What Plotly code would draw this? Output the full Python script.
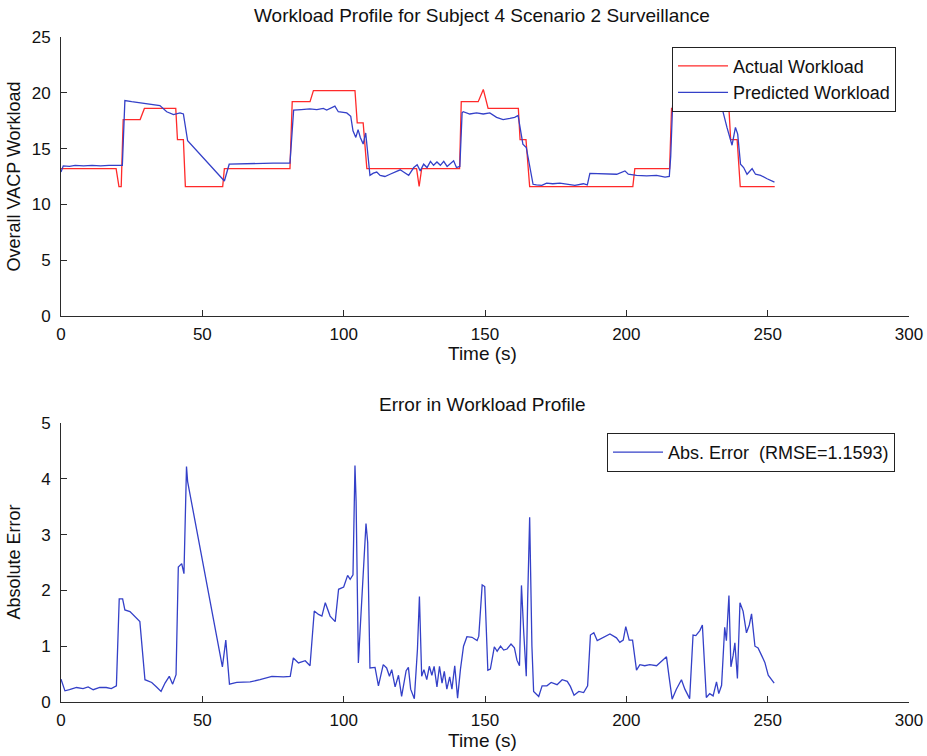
import plotly.graph_objects as go

# ---------------- data ----------------
actual_t = [0, 19.5, 20.5, 21.3, 22.0, 28.0, 29.5, 40.6, 41.2, 43.3, 44.0, 57.2, 57.8,
            81.0, 81.8, 88.1, 89.3, 104.0, 104.8, 106.9, 108.2, 125.8, 126.7, 127.6,
            141.0, 141.6, 147.6, 149.4, 151.1, 161.8, 162.4, 164.5, 165.8, 202.3, 203.0,
            215.3, 216.0, 236.3, 236.9, 239.2, 240.3, 252.5]
actual_v = [13.2, 13.2, 11.6, 11.6, 17.6, 17.6, 18.6, 18.6, 15.8, 15.8, 11.6, 11.6, 13.2,
            13.2, 19.2, 19.2, 20.2, 20.2, 17.3, 17.3, 13.2, 13.2, 11.6, 13.2,
            13.2, 19.2, 19.2, 20.3, 18.6, 18.6, 15.8, 15.8, 11.6, 11.6, 13.2,
            13.2, 18.6, 18.6, 15.8, 15.8, 11.6, 11.6]

pred_t = [0, 0.8, 3, 5, 8, 11, 14, 17, 21.7, 22.6, 25, 30, 35, 37.4, 39.8, 42.1, 43.3, 44.8,
          57.8, 59.5, 65, 75, 81.0, 82.3, 85, 88, 90.5, 92.8, 94, 96.9, 98.1, 101.1, 102.5,
          103.3, 104.3, 105.1, 105.9, 106.9, 107.8, 109.3, 110.5, 111.7, 112.9, 114.6, 116.4,
          118.2, 120.0, 121.2, 123.0, 124.8, 126.0, 127.1, 128.3, 129.5, 130.7, 131.8, 133,
          134.2, 135.4, 136.6, 137.8, 138.9, 139.9, 141.1, 141.9, 142.3, 144.6, 147, 149.4,
          151.7, 154.1, 156.4, 158.8, 160.5, 161.7, 162.5, 163.4, 164.6, 165.8, 167, 168.2,
          170.1, 171.8, 174, 176.5, 178.9, 181.8, 184.8, 186.2, 187.1, 189.5, 193, 196.6,
          199.5, 200.7, 203.6, 207.2, 210.7, 213.7, 215.2, 215.7, 216.4, 217.5, 220, 223,
          226.2, 228.6, 230.9, 232.7, 233.9, 235.6, 237.4, 238.6, 239.4, 240.4, 241.5, 242.7,
          244.5, 245.7, 247.5, 249.8, 252.4]
pred_v = [12.9, 13.45, 13.4, 13.5, 13.45, 13.5, 13.45, 13.5, 13.5, 19.3, 19.2, 19.0, 18.85,
          18.3, 18.05, 18.2, 18.1, 15.7, 12.1, 13.6, 13.65, 13.7, 13.7, 18.45, 18.5, 18.55,
          18.5, 18.6, 18.45, 18.8, 18.3, 18.2, 17.9, 16.6, 16.0, 16.7, 16.0, 15.4, 16.4, 12.6,
          12.8, 12.9, 12.6, 12.5, 12.7, 12.9, 13.1, 12.9, 12.6, 13.3, 13.55, 13.0, 13.6, 13.3,
          13.85, 13.5, 13.8, 13.5, 13.85, 13.4, 13.7, 13.9, 13.3, 13.4, 18.2, 18.3, 18.1, 18.2,
          18.1, 18.2, 17.8, 17.6, 17.7, 17.8, 17.97, 16.9, 15.4, 15.1, 13.6, 11.8, 11.75, 11.7,
          11.9, 11.85, 11.9, 11.8, 11.7, 11.85, 11.75, 12.77, 12.75, 12.75, 12.7, 13.0, 12.7,
          12.6, 12.55, 12.6, 12.45, 12.5, 14.3, 19.1, 19.3, 19.2, 19.1, 19.0, 18.6, 18.7, 19.0,
          18.6, 16.9, 15.3, 16.9, 16.3, 13.6, 13.3, 12.7, 13.2, 12.7, 12.6, 12.3, 12.0]

err_t = [0, 1.4, 3, 5.5, 7.8, 9.6, 11.4, 13.7, 16.0, 17.8, 19.6, 20.6, 21.8, 22.6, 24.4, 26.1,
         27.9, 29.7, 32.1, 33.8, 35.4, 36.8, 38.3, 39.5, 40.7, 41.5, 42.7, 43.5, 44.4, 44.8,
         57.1, 58.3, 59.6, 62.2, 66.9, 70.4, 74.6, 78.7, 81.1, 82.2, 84.0, 86.4, 88.1, 89.6,
         91.1, 92.3, 93.5, 95.2, 97.0, 98.2, 100, 101.4, 102.3, 103.3, 104.0, 104.4, 105.2,
         105.8, 107, 107.9, 108.5, 109.3, 111.1, 112.3, 114.0, 115.2, 116.2, 117, 118.2, 119.4,
         120.5, 122.1, 122.9, 123.7, 125, 126.1, 126.8, 127.6, 128.4, 129.4, 130.3, 131.2, 132,
         133, 133.9, 134.8, 135.6, 136.5, 137.5, 138.3, 139.3, 140.3, 141.3, 142.4, 143.6,
         145.4, 147.2, 147.8, 149, 149.9, 151, 151.9, 153.3, 154.3, 155.5, 156.6, 157.8, 159.2,
         160.4, 161.3, 162.2, 162.9, 163.7, 164.6, 165.1, 165.8, 166.6, 167.2, 169, 170.2,
         171.9, 173.4, 175.5, 177.3, 179.1, 180.2, 181.5, 183.2, 184.9, 186.3, 187.3, 188.5,
         189.7, 191.8, 194.2, 196.5, 197.7, 198.9, 199.8, 201, 202.2, 203.6, 204.8, 206.5,
         208.3, 210.7, 212.4, 214.2, 215.1, 216.2, 217.7, 219.5, 220.7, 222.4, 223.6, 224.6,
         226, 226.9, 228.3, 229.5, 230.7, 231.9, 232.7, 233.7, 234.8, 235.4, 236.3, 237, 237.8,
         238.4, 239.3, 240.2, 241.3, 242.5, 243.5, 244.3, 245.5, 246.6, 247.8, 249, 250.2,
         251.3, 252.3]
err_v = [0.41, 0.20, 0.22, 0.26, 0.24, 0.27, 0.22, 0.26, 0.26, 0.24, 0.29, 1.85, 1.85, 1.65,
         1.62, 1.53, 1.44, 0.40, 0.35, 0.27, 0.19, 0.34, 0.46, 0.32, 0.49, 2.42, 2.48, 2.30,
         4.22, 3.95, 0.63, 1.11, 0.32, 0.35, 0.36, 0.40, 0.46, 0.45, 0.46, 0.79, 0.70, 0.74,
         0.65, 1.63, 1.57, 1.54, 1.78, 1.54, 1.44, 2.02, 2.06, 2.27, 2.20, 2.28, 4.24, 3.6,
         0.70, 1.27, 2.28, 3.2, 2.86, 0.61, 0.62, 0.29, 0.67, 0.61, 0.46, 0.58, 0.27, 0.48,
         0.10, 0.56, 0.62, 0.23, 0.06, 0.94, 1.89, 0.46, 0.58, 0.40, 0.64, 0.48, 0.64, 0.27,
         0.64, 0.34, 0.55, 0.23, 0.45, 0.23, 0.65, 0.07, 0.58, 1.0, 1.17, 1.16, 1.10, 1.18,
         2.1, 2.07, 0.57, 0.59, 0.99, 0.91, 1.0, 0.93, 0.95, 1.04, 0.97, 0.75, 0.65, 2.09, 1.25,
         0.46, 1.85, 3.31, 1.0, 0.19, 0.10, 0.29, 0.29, 0.35, 0.31, 0.40, 0.37, 0.28, 0.12,
         0.19, 0.17, 0.29, 1.2, 1.24, 1.1, 1.16, 1.22, 1.15, 1.07, 1.11, 1.35, 1.11, 1.11, 0.57,
         0.67, 0.65, 0.67, 0.65, 0.72, 0.81, 0.46, 0.05, 0.23, 0.40, 0.23, 0.06, 1.2, 1.19,
         1.28, 1.38, 0.08, 0.15, 0.11, 0.36, 0.15, 0.30, 1.34, 1.1, 1.91, 0.63, 0.84, 1.06,
         0.42, 1.78, 1.63, 1.24, 1.38, 1.58, 1.0, 0.97, 0.84, 0.71, 0.48, 0.41, 0.34]

x_ticks = [0, 50, 100, 150, 200, 250, 300]
top_y_ticks = [0, 5, 10, 15, 20, 25]
bot_y_ticks = [0, 1, 2, 3, 4, 5]

# ---------------- figure ----------------
FONT = "Liberation Sans, Arial, sans-serif"
RED = "#ff2a2a"
BLUE = "#3440c8"
AX = "#2b2b2b"
TXT = "#111111"

fig = go.Figure()
fig.add_trace(go.Scatter(x=actual_t, y=actual_v, mode="lines", name="Actual Workload",
                         line=dict(color=RED, width=1.3), xaxis="x", yaxis="y", legend="legend"))
fig.add_trace(go.Scatter(x=pred_t, y=pred_v, mode="lines", name="Predicted Workload",
                         line=dict(color=BLUE, width=1.3), xaxis="x", yaxis="y", legend="legend"))
fig.add_trace(go.Scatter(x=err_t, y=err_v, mode="lines", name="Abs. Error  (RMSE=1.1593)",
                         line=dict(color=BLUE, width=1.3), xaxis="x2", yaxis="y2", legend="legend2"))

axis_common = dict(showgrid=False, zeroline=False, showline=True, linecolor=AX, linewidth=1,
                   ticks="inside", ticklen=6, tickcolor=AX, tickwidth=1, mirror=False,
                   automargin=False,
                   tickfont=dict(family=FONT, size=17, color=TXT))

TOP_DOM = [0.5805, 1]
BOT_DOM = [0, 0.4195]

fig.update_layout(
    width=927, height=756,
    margin=dict(l=61, r=18, t=37, b=54, autoexpand=False),
    paper_bgcolor="white", plot_bgcolor="white",
    font=dict(family=FONT, color=TXT),
    xaxis=dict(domain=[0, 1], range=[0, 300], tickvals=x_ticks, anchor="y",
               ticklabelstandoff=3, **axis_common),
    yaxis=dict(domain=TOP_DOM, range=[0, 25], tickvals=top_y_ticks, anchor="x",
               ticklabelstandoff=6, **axis_common),
    xaxis2=dict(domain=[0, 1], range=[0, 300], tickvals=x_ticks, anchor="y2",
                ticklabelstandoff=3, **axis_common),
    yaxis2=dict(domain=BOT_DOM, range=[0, 5], tickvals=bot_y_ticks, anchor="x2",
                ticklabelstandoff=6, **axis_common),
    legend=dict(x=0.9847, y=0.9854, xanchor="right", yanchor="top",
                bgcolor="white", bordercolor="#222", borderwidth=1,
                font=dict(family=FONT, size=18, color=TXT),
                tracegroupgap=0, itemwidth=50),
    legend2=dict(x=0.9835, y=0.4045, xanchor="right", yanchor="top",
                 bgcolor="white", bordercolor="#222", borderwidth=1,
                 font=dict(family=FONT, size=18, color=TXT),
                 itemwidth=50),
    showlegend=True,
    annotations=[
        dict(text="Workload Profile for Subject 4 Scenario 2 Surveillance", xref="paper", yref="paper",
             x=0.4965, y=TOP_DOM[1], yshift=22, xanchor="center", yanchor="middle", showarrow=False,
             font=dict(family=FONT, size=19, color=TXT)),
        dict(text="Error in Workload Profile", xref="paper", yref="paper",
             x=0.4965, y=BOT_DOM[1], yshift=19, xanchor="center", yanchor="middle", showarrow=False,
             font=dict(family=FONT, size=19, color=TXT)),
        dict(text="Time (s)", xref="paper", yref="paper",
             x=0.4965, y=TOP_DOM[0], yshift=-38, xanchor="center", yanchor="middle", showarrow=False,
             font=dict(family=FONT, size=19, color=TXT)),
        dict(text="Time (s)", xref="paper", yref="paper",
             x=0.4965, y=BOT_DOM[0], yshift=-38, xanchor="center", yanchor="middle", showarrow=False,
             font=dict(family=FONT, size=19, color=TXT)),
        dict(text="Overall VACP Workload", xref="paper", yref="paper", textangle=-90,
             x=0, xshift=-47, y=sum(TOP_DOM) / 2, xanchor="center", yanchor="middle", showarrow=False,
             font=dict(family=FONT, size=18, color=TXT)),
        dict(text="Absolute Error", xref="paper", yref="paper", textangle=-90,
             x=0, xshift=-47, y=sum(BOT_DOM) / 2, xanchor="center", yanchor="middle", showarrow=False,
             font=dict(family=FONT, size=18, color=TXT)),
    ],
)

# remove the browser's default 8px page margin so the figure fills the window exactly
fig.write_html("out.html",
               config={"displayModeBar": False},
               post_script="document.body.style.margin='0';document.body.style.overflow='hidden';")
